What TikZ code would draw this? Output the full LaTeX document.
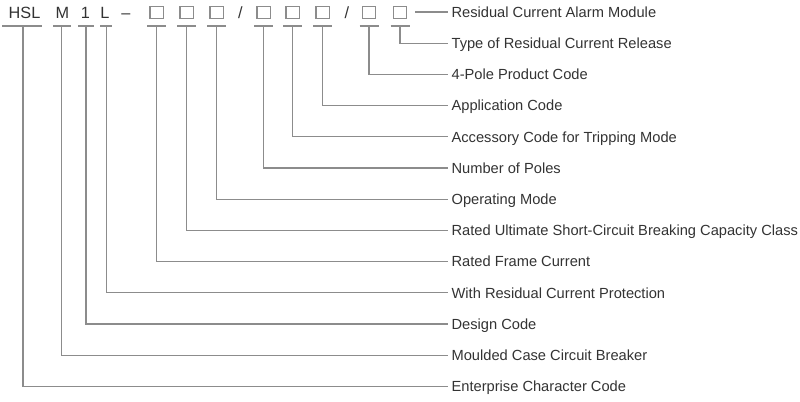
\documentclass[tikz,border=0pt]{standalone}
\usepackage{fontspec}
\setmainfont{Liberation Sans}
\definecolor{ln}{HTML}{8C8C8C}
\definecolor{tx}{HTML}{333333}
\begin{document}
\begin{tikzpicture}[x=0.75pt,y=-0.75pt,
  conn/.style={draw=ln,line width=0.8pt},
  lbl/.style={anchor=west,font=\fontsize{11}{13}\selectfont,text=tx,inner xsep=2.5pt,inner ysep=0pt,text height=7.9pt,text depth=0pt},
  code/.style={font=\fontsize{12.2}{14}\selectfont,text=tx,inner sep=0pt,text height=8.7pt,text depth=0pt},
  codebox/.style={draw=ln,line width=0.8pt,minimum width=9.8pt,minimum height=9pt,inner sep=0pt}]
\useasboundingbox (0,0) rectangle (800,402);

% code row
\node[code] (hsl) at (24.5,12.5) {HSL};
\node[code] (m) at (62.5,12.5) {M};
\node[code] (one) at (85.5,12.5) {1};
\node[code] (el) at (105,12.5) {L};
\node[code] (dash) at (126,12.5) {--};
\node[codebox] (b1) at (156.5,12.5) {};
\node[codebox] (b2) at (186.5,12.5) {};
\node[codebox] (b3) at (216.5,12.5) {};
\node[code] (s1) at (240.5,12.5) {/};
\node[codebox] (b4) at (263.5,12.5) {};
\node[codebox] (b5) at (292.5,12.5) {};
\node[codebox] (b6) at (322.5,12.5) {};
\node[code] (s2) at (347,12.5) {/};
\node[codebox] (b7) at (369,12.5) {};
\node[codebox] (b8) at (400,12.5) {};

% underlines
\draw[conn] (2,26) -- (42,26);
\draw[conn] (53,26) -- (71,26);
\draw[conn] (78,26) -- (94,26);
\draw[conn] (100,26) -- (112,26);
\foreach \c in {156.5,186.5,216.5,263.5,292.5,322.5,369,400}
  \draw[conn] (\c-9.5,26) -- (\c+9.5,26);

\coordinate (uhsl) at (23,26);
\coordinate (um) at (61.5,26);
\coordinate (uone) at (86,26);
\coordinate (uel) at (106.5,26);
\coordinate (u1) at (156.5,26);
\coordinate (u2) at (186.5,26);
\coordinate (u3) at (216.5,26);
\coordinate (u4) at (263.5,26);
\coordinate (u5) at (292.5,26);
\coordinate (u6) at (322.5,26);
\coordinate (u7) at (369,26);
\coordinate (u8) at (400,26);

% labels
\node[lbl] (l1) at (448,12) {Residual Current Alarm Module};
\node[lbl] (l2) at (448,43.2) {Type of Residual Current Release};
\node[lbl] (l3) at (448,74.4) {4-Pole Product Code};
\node[lbl] (l4) at (448,105.6) {Application Code};
\node[lbl] (l5) at (448,136.8) {Accessory Code for Tripping Mode};
\node[lbl] (l6) at (448,168) {Number of Poles};
\node[lbl] (l7) at (448,199.2) {Operating Mode};
\node[lbl] (l8) at (448,230.4) {Rated Ultimate Short-Circuit Breaking Capacity Class};
\node[lbl] (l9) at (448,261.6) {Rated Frame Current};
\node[lbl] (l10) at (448,292.8) {With Residual Current Protection};
\node[lbl] (l11) at (448,324) {Design Code};
\node[lbl] (l12) at (448,355.2) {Moulded Case Circuit Breaker};
\node[lbl] (l13) at (448,386.4) {Enterprise Character Code};

% connectors
\draw[conn] ([xshift=6pt]b8.east |- l1.west) -- (l1.west);
\draw[conn] (u8) |- (l2.west);
\draw[conn] (u7) |- (l3.west);
\draw[conn] (u6) |- (l4.west);
\draw[conn] (u5) |- (l5.west);
\draw[conn] (u4) |- (l6.west);
\draw[conn] (u3) |- (l7.west);
\draw[conn] (u2) |- (l8.west);
\draw[conn] (u1) |- (l9.west);
\draw[conn] (uel) |- (l10.west);
\draw[conn] (uone) |- (l11.west);
\draw[conn] (um) |- (l12.west);
\draw[conn] (uhsl) |- (l13.west);
\end{tikzpicture}
\end{document}
